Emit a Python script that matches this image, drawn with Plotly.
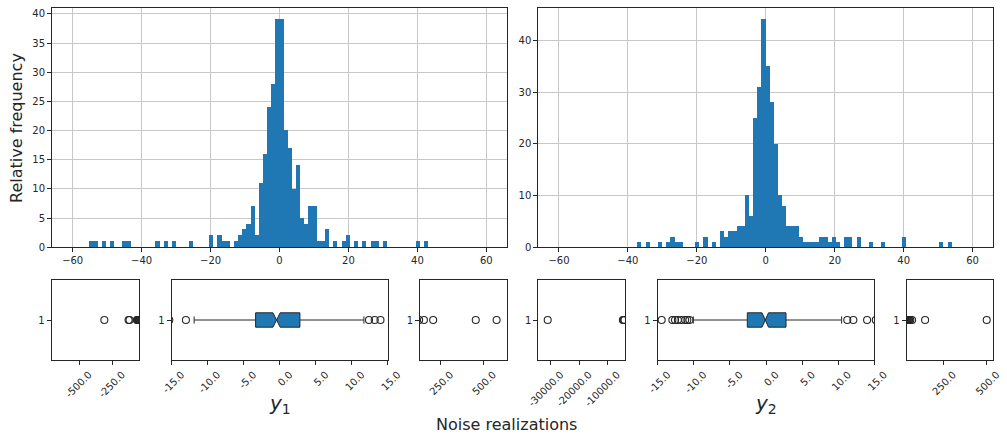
import plotly.graph_objects as go

W, H = 1007, 436

# ---- Histogram data: counts per bin, 100 bins of width 1.2 over [-60, 60]
BIN_START = -60.0
BIN_WIDTH = 1.2

y1_counts = [
    0, 0, 0, 0, 1, 1, 0, 1, 0, 1,
    0, 0, 1, 1, 0, 0, 0, 0, 0, 0,
    1, 0, 1, 0, 1, 0, 0, 0, 1, 0,
    0, 0, 0, 2, 0, 2, 1, 1, 0, 1,
    2, 3, 4, 7, 2, 11, 16, 24, 28, 39,
    39, 20, 17, 10, 14, 5, 4, 7, 7, 1,
    1, 3, 0, 1, 0, 1, 2, 0, 1, 0,
    1, 0, 1, 1, 0, 1, 0, 0, 0, 0,
    0, 0, 0, 1, 0, 1, 0, 0, 0, 0,
    0, 0, 0, 0, 0, 0, 0, 0, 0, 0,
]

y2_counts = [
    0, 0, 0, 0, 0, 0, 0, 0, 0, 0,
    0, 0, 0, 0, 0, 0, 0, 0, 0, 1,
    0, 1, 0, 0, 1, 0, 1, 2, 1, 1,
    0, 0, 0, 1, 0, 2, 0, 1, 0, 3,
    2, 3, 3, 4, 4, 10, 6, 25, 31, 44,
    35, 28, 20, 10, 8, 4, 4, 4, 2, 1,
    1, 1, 1, 2, 2, 1, 2, 1, 0, 2,
    2, 0, 2, 0, 0, 1, 0, 0, 1, 0,
    0, 0, 0, 2, 0, 0, 0, 0, 0, 0,
    0, 0, 1, 0, 1, 0, 0, 0, 0, 0,
]

hist_ticks = [-60, -40, -20, 0, 20, 40, 60]
y1_freq_ticks = [0, 5, 10, 15, 20, 25, 30, 35, 40]
y2_freq_ticks = [0, 10, 20, 30, 40]

# ---- Box-plot summaries (notched boxes)
y1_stats = dict(q1=-3.33, median=-0.42, q3=2.82, lo=-11.86, hi=11.7, notch=0.5)
y2_stats = dict(q1=-2.59, median=-0.10, q3=2.77, lo=-10.07, hi=10.48, notch=0.45)

y1_outliers = [
    -310, -128, -121, -66, -60, -55.5, -54, -51.5, -49, -45.5, -44.5,
    -35.5, -33, -31, -26, -20, -18, -17, -15.3, -13.0,
    12.4, 13.2, 14.0, 16, 18.5, 19.5, 20, 22, 24.5, 27, 28, 30.5, 40, 42.5,
    125, 153, 207, 456, 578,
]
y2_outliers = [
    -31060, -4500, -4200, -3900, -37.5, -34.5, -30.5, -27.5, -26.5, -25,
    -19.5, -17.5, -15.5, -14.45, -12.97, -12.6, -12.2, -11.7, -11.2, -10.9, -10.6,
    11.26, 12.1, 14.0, 15.2, 17, 20, 24, 27, 30.5, 34.5, 40, 42, 46, 51, 53, 60, 70, 145, 500,
]

# Axis windows of the three panels per variable (left tail, core, right tail)
y1_windows = [(-705, -50), (-15, 15), (130, 637)]
y2_windows = [(-34380, -3750), (-15, 15), (39, 538)]

y1_ticks = [[-500, -250], [-15, -10, -5, 0, 5, 10, 15], [250, 500]]
y2_ticks = [[-30000, -20000, -10000], [-15, -10, -5, 0, 5, 10, 15], [250, 500]]

BLUE = "#1f77b4"
INK = "#262626"
GRID = "#c8c8c8"


def px_x(a, b):
    return [a / W, b / W]


def px_y(top, bottom):
    return [1 - bottom / H, 1 - top / H]


fig = go.Figure()

# ---- histograms
centers = [BIN_START + BIN_WIDTH * (k + 0.5) for k in range(len(y1_counts))]
for i, counts in enumerate([y1_counts, y2_counts]):
    sfx = "" if i == 0 else "2"
    fig.add_trace(go.Bar(
        x=centers, y=counts, width=BIN_WIDTH,
        marker=dict(color=BLUE, line=dict(width=0)),
        xaxis="x" + sfx, yaxis="y" + sfx, showlegend=False, hoverinfo="skip",
    ))

axis_common = dict(
    showline=True, mirror=True, linecolor=INK, linewidth=1,
    ticks="outside", ticklen=4, tickcolor=INK, tickwidth=1,
    tickfont=dict(family="DejaVu Sans", size=10, color=INK),
    zeroline=False, automargin=False,
)

hist_rows = px_y(8.3, 247.3)
fig.update_layout(
    xaxis=dict(domain=px_x(52, 507), range=[-66, 66], tickvals=hist_ticks,
               showgrid=True, gridcolor=GRID, gridwidth=1, anchor="y", **axis_common),
    yaxis=dict(domain=hist_rows, range=[0, 40.95], tickvals=y1_freq_ticks,
               showgrid=True, gridcolor=GRID, gridwidth=1, anchor="x", **axis_common),
    xaxis2=dict(domain=px_x(538.3, 993.3), range=[-66, 66], tickvals=hist_ticks,
                showgrid=True, gridcolor=GRID, gridwidth=1, anchor="y2", **axis_common),
    yaxis2=dict(domain=hist_rows, range=[0, 46.2], tickvals=y2_freq_ticks,
                showgrid=True, gridcolor=GRID, gridwidth=1, anchor="x2", **axis_common),
)

# ---- box-plot row: three panels per variable
box_cols = [(51.7, 139), (171.5, 387.7), (420, 506.7),
            (538.3, 625), (657.7, 874.3), (906.7, 993.3)]
box_rows = px_y(280, 360)


def fmt(v):
    return f"{v:.1f}"


panels = []
for stats, outs, wins, ticks in [(y1_stats, y1_outliers, y1_windows, y1_ticks),
                                 (y2_stats, y2_outliers, y2_windows, y2_ticks)]:
    for w, t in zip(wins, ticks):
        panels.append((stats, outs, w, t))

for j, ((stats, outs, win, tv), (a, b)) in enumerate(zip(panels, box_cols)):
    n = j + 3
    xa, ya = f"x{n}", f"y{n}"
    fig.add_trace(go.Box(
        y=[1], q1=[stats["q1"]], median=[stats["median"]], q3=[stats["q3"]],
        lowerfence=[stats["lo"]], upperfence=[stats["hi"]],
        notchspan=[stats["notch"]], notched=True, notchwidth=0.5,
        orientation="h", boxpoints=False, width=0.18, whiskerwidth=0.5,
        fillcolor=BLUE, line=dict(color=INK, width=1),
        xaxis=xa, yaxis=ya, showlegend=False, hoverinfo="skip",
    ))
    fig.add_trace(go.Scatter(
        x=outs, y=[1] * len(outs), mode="markers",
        marker=dict(symbol="circle-open", size=7, color=INK, line=dict(width=1.1)),
        xaxis=xa, yaxis=ya, showlegend=False, cliponaxis=True, hoverinfo="skip",
    ))
    fig.layout[f"xaxis{n}"] = dict(
        domain=px_x(a, b), range=list(win), tickvals=tv,
        ticktext=[fmt(v) for v in tv], tickangle=-45, ticklabelshift=10,
        showgrid=False, anchor=ya, **axis_common)
    fig.layout[f"yaxis{n}"] = dict(
        domain=box_rows, range=[0.5, 1.5], tickvals=[1], ticktext=["1"],
        showgrid=False, anchor=xa, **axis_common)

# ---- titles
label_font = dict(family="DejaVu Sans", size=16, color=INK)
centered = dict(xref="paper", yref="paper", showarrow=False,
                xanchor="center", yanchor="middle")
fig.add_annotation(text="Relative frequency", textangle=-90, x=16 / W, y=1 - 128 / H,
                   font=label_font, **centered)
fig.add_annotation(text="Noise realizations", x=506 / W, y=1 - 424 / H,
                   font=label_font, **centered)
for name, cx in [("<i>y</i><sub>1</sub>", 279.6), ("<i>y</i><sub>2</sub>", 766)]:
    fig.add_annotation(text=name, x=cx / W, y=1 - 404 / H,
                       font=dict(family="DejaVu Sans", size=20, color=INK), **centered)

fig.update_layout(
    width=W, height=H, autosize=False,
    margin=dict(l=0, r=0, t=0, b=0),
    paper_bgcolor="white", plot_bgcolor="white",
    bargap=0, showlegend=False,
)

fig.write_html("out.html")
